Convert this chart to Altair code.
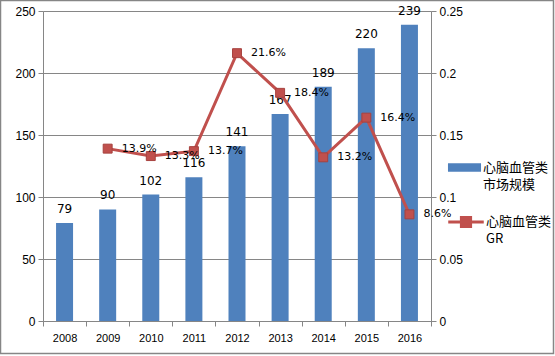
import altair as alt
import pandas as pd

years = ['2008', '2009', '2010', '2011', '2012', '2013', '2014', '2015', '2016']
market = [79, 90, 102, 116, 141, 167, 189, 220, 239]
growth = [None, 0.139, 0.133, 0.137, 0.216, 0.184, 0.132, 0.164, 0.086]
growth_labels = ['', '13.9%', '13.3%', '13.7%', '21.6%', '18.4%', '13.2%', '16.4%', '8.6%']
series_bar = '心脑血管类|市场规模'
series_line = '心脑血管类|GR'

df = pd.DataFrame({'year': years, 'market': market, 'growth': growth, 'glabel': growth_labels})

FONT = 'DejaVu Sans'
GRAY = '#868686'
BLUE = '#4F81BD'
RED = '#C0504D'

base = alt.Chart(df)
x = alt.X('year:N', title=None, sort=years,
          scale=alt.Scale(paddingInner=0.0, paddingOuter=0.0),
          axis=alt.Axis(labelAngle=0, tickBand='extent', domainColor=GRAY, tickColor=GRAY,
                        tickSize=5, labelPadding=6, labelFontSize=11, labelColor='#000'))

yL = alt.Y('market:Q', title=None,
           scale=alt.Scale(domain=[0, 250]),
           axis=alt.Axis(values=[0, 50, 100, 150, 200, 250], orient='left', grid=True,
                         gridColor=GRAY, domainColor=GRAY, tickColor=GRAY, tickSize=5,
                         labelFontSize=12, labelColor='#000', labelPadding=3))

bars = base.mark_bar(size=17).encode(
    x=x, y=yL,
    color=alt.Color('s:N', scale=alt.Scale(domain=[series_bar], range=[BLUE]),
                    legend=alt.Legend(title=None, orient='none', legendX=415, legendY=150,
                                      symbolType='M-2.7,-0.7H2.7V0.7H-2.7Z', symbolSize=150,
                                      labelExpr="split(datum.label, '|')", labelFontSize=13,
                                      labelFont='Noto Sans CJK SC', labelColor='#000',
                                      symbolStrokeWidth=0, labelOffset=12))
).transform_calculate(s=f"'{series_bar}'")

bar_text = base.mark_text(baseline='bottom', dy=-7, fontSize=12, font=FONT, color='#000').encode(
    x=x, y=yL, text='market:Q')

left = alt.layer(bars, bar_text)

yR = alt.Y('growth:Q', title=None,
           scale=alt.Scale(domain=[0, 0.25]),
           axis=alt.Axis(values=[0, 0.05, 0.1, 0.15, 0.2, 0.25], orient='right', grid=False,
                         format='~g', domainColor=GRAY, tickColor=GRAY, tickSize=5,
                         labelFontSize=12, labelColor='#000', labelPadding=3))

line = base.mark_line(interpolate='linear', strokeWidth=3).encode(
    x=x, y=yR,
    color=alt.Color('s:N', scale=alt.Scale(domain=[series_line], range=[RED]),
                    legend=alt.Legend(title=None, orient='none', legendX=415, legendY=203,
                                      symbolType='M-2.9,0H2.9M-0.75,-0.75H0.75V0.75H-0.75Z',
                                      symbolSize=150, symbolStrokeWidth=3,
                                      symbolFillColor=RED,
                                      labelExpr="split(datum.label, '|')", labelFontSize=13,
                                      labelFont='Noto Sans CJK SC', labelColor='#000',
                                      labelOffset=12))
).transform_calculate(s=f"'{series_line}'")

points = base.mark_point(shape='square', filled=True, size=80, color=RED, opacity=1,
                         stroke='#A7423F', strokeWidth=1).encode(x=x, y=yR)

line_text = base.mark_text(align='left', dx=14, fontSize=11, font=FONT, color='#000').encode(
    x=x, y=yR, text='glabel:N')

right = alt.layer(line, points, line_text)

border = alt.Chart(pd.DataFrame({'a': [0]})).mark_rect(fill=None, stroke=GRAY, strokeWidth=1.5).encode(
    x=alt.value(-42.5), x2=alt.value(510.5), y=alt.value(-10.5), y2=alt.value(342.5))

chart = alt.layer(left, right, border).resolve_scale(y='independent', color='independent').properties(
    width=388, height=310,
    autosize=alt.AutoSizeParams(type='none'),
    padding={'left': 43, 'top': 11, 'right': 124, 'bottom': 35}
).configure_view(stroke=None).configure_axis(labelFont=FONT).configure(
    background='white', style={'guide-label': {'lineHeight': 17}})

chart.save('out.html', embed_options={'renderer': 'svg', 'actions': False})
